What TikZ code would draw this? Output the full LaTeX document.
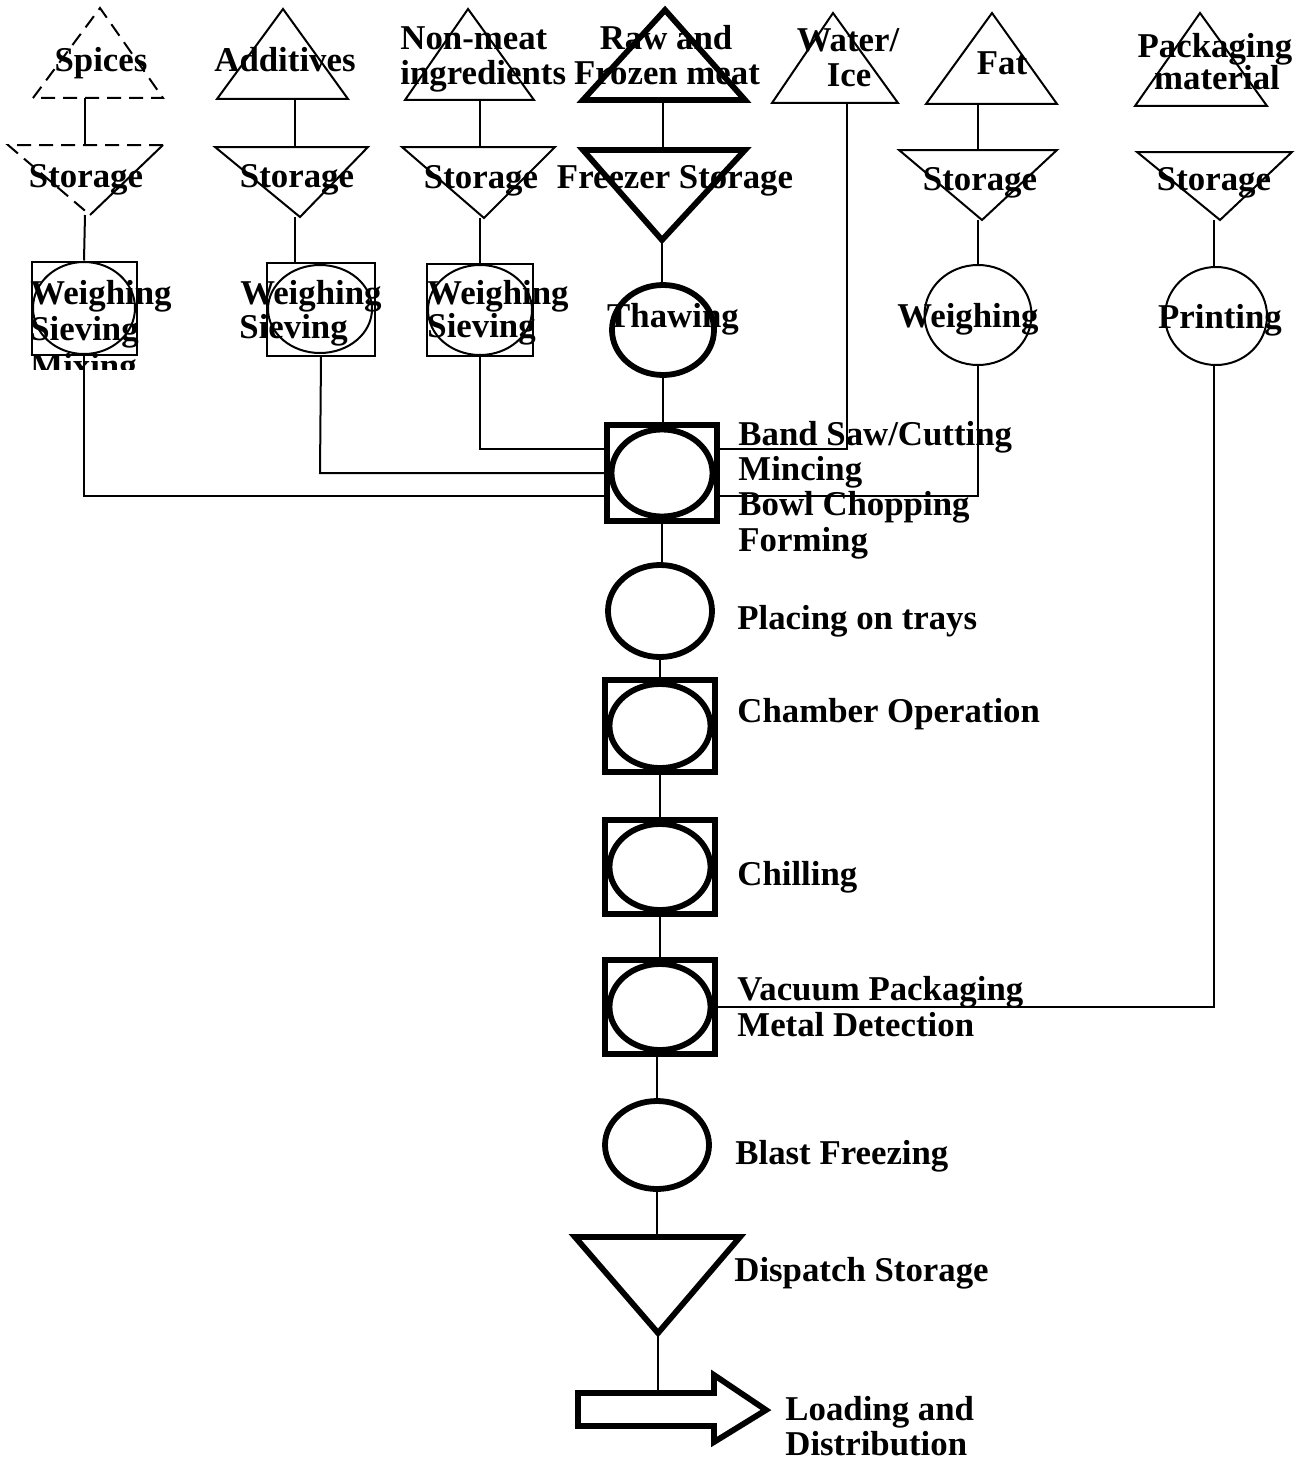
\documentclass[tikz,border=0pt]{standalone}
\usepackage{fontspec}
\setmainfont{Liberation Serif}
\usetikzlibrary{shapes.geometric}
\newcommand{\diagfont}{\fontsize{17.4}{17.8}\selectfont\bfseries}
\begin{document}
\begin{tikzpicture}[x=0.5pt,y=-0.5pt,
  thinln/.style={line width=1pt},
  thickln/.style={line width=2.9pt},
  dashln/.style={line width=1pt,dash pattern=on 7pt off 4pt},
  lbl/.style={font=\diagfont,inner sep=0,anchor=base},
  lblw/.style={font=\diagfont,inner sep=0,anchor=base west},
  sbox/.style={draw,thinln,rectangle,inner sep=0},
  bbox/.style={draw,thickln,rectangle,inner sep=0,minimum width=55pt,minimum height=47pt},
  oval/.style={draw,ellipse,inner sep=0},
]
\useasboundingbox (0,0) rectangle (1301,1461);

% ---------------- Spices column
\draw[dashln] (33,98) -- (100,8) -- (163,98) -- cycle;
\coordinate (spT) at (85,98);
\draw[dashln] (163,145) -- (8,145) -- (90,215);
\draw[thinln] (90,215) -- (163,145);
\coordinate (spS-t) at (85,145);
\coordinate (spS-b) at (85,215);
\node[sbox,minimum width=52.5pt,minimum height=46.5pt] (spW) at (84,308) {};
\node[oval,thinln,minimum width=51pt,minimum height=46pt] (spWc) at (84,308) {};
\node[lbl] (t-sp) at (101,72) {Spices};
\node[lbl] (t-sps) at (86,187) {Storage};
\node[lblw] (t-spw1) at (30,304) {Weighing};
\node[lblw] (t-spw2) at (30,340) {Sieving};
\begin{scope}
\clip (0,340) rectangle (300,369);
\node[lblw] (t-spw3) at (30,377) {Mixing};
\end{scope}

% ---------------- Additives column
\draw[thinln] (217,99) -- (283,9) -- (348,99) -- cycle;
\coordinate (adT) at (295,99);
\draw[thinln] (215,147) -- (368,147) -- (300,217) -- cycle;
\coordinate (adS-t) at (295,147);
\coordinate (adS-b) at (295,217);
\node[sbox,minimum width=54pt,minimum height=46.5pt] (adW) at (321,309) {};
\node[oval,thinln,minimum width=52pt,minimum height=44pt] (adWc) at (320,309) {};
\node[lbl] (t-ad) at (285,72) {Additives};
\node[lbl] (t-ads) at (297,187) {Storage};
\node[lblw] (t-adw1) at (240,304) {Weighing};
\node[lblw] (t-adw2) at (239,338) {Sieving};

% ---------------- Non-meat column
\draw[thinln] (405,100) -- (468,9) -- (534,100) -- cycle;
\coordinate (nmT) at (480,100);
\draw[thinln] (402,147) -- (555,147) -- (484,218) -- cycle;
\coordinate (nmS-t) at (480,147);
\coordinate (nmS-b) at (480,218);
\node[sbox,minimum width=53pt,minimum height=46pt] (nmW) at (480,310) {};
\node[oval,thinln,minimum width=52pt,minimum height=45pt] (nmWc) at (480,310) {};
\node[lblw] (t-nm1) at (400,50) {Non-meat};
\node[lblw] (t-nm2) at (400,85) {ingredients};
\node[lbl] (t-nms) at (481,188) {Storage};
\node[lblw] (t-nmw1) at (427,304) {Weighing};
\node[lblw] (t-nmw2) at (427,337) {Sieving};

% ---------------- Raw and frozen meat column
\draw[thickln,line join=miter] (583,100) -- (665,10) -- (745,100) -- cycle;
\coordinate (rmT) at (663,100);
\draw[thickln,line join=miter] (583,150) -- (745,150) -- (662,240) -- cycle;
\coordinate (rmS-t) at (663,150);
\coordinate (rmS-b) at (662,240);
\node[oval,thickln,minimum width=51pt,minimum height=45pt] (thaw) at (663,330) {};
\node[lbl] (t-rm1) at (666,50) {Raw and};
\node[lbl] (t-rm2) at (667,85) {Frozen meat};
\node[lbl] (t-rms) at (675,188) {Freezer Storage};
\node[lbl] (t-thaw) at (673,327) {Thawing};

% ---------------- Water / Ice column
\draw[thinln] (772,103) -- (833,13) -- (898,103) -- cycle;
\coordinate (wiT) at (847,103);
\node[lbl] (t-wi1) at (848,52) {Water/};
\node[lbl] (t-wi2) at (849,87) {Ice};

% ---------------- Fat column
\draw[thinln] (926,104) -- (992,13) -- (1057,104) -- cycle;
\coordinate (faT) at (978,104);
\draw[thinln] (899,150) -- (1057,150) -- (982,220) -- cycle;
\coordinate (faS-t) at (978,150);
\coordinate (faS-b) at (978,220);
\node[oval,thinln,minimum width=53.5pt,minimum height=50pt] (faW) at (978,315) {};
\node[lbl] (t-fa) at (1002,75) {Fat};
\node[lbl] (t-fas) at (980,190) {Storage};
\node[lbl] (t-faw) at (968,327) {Weighing};

% ---------------- Packaging column
\draw[thinln] (1135,106) -- (1200,13) -- (1267,106) -- cycle;
\draw[thinln] (1137,152) -- (1292,152) -- (1220,220) -- cycle;
\coordinate (pkS-b) at (1214,220);
\node[oval,thinln,minimum width=51pt,minimum height=49pt] (print) at (1216,316) {};
\node[lbl] (t-pk1) at (1215,58) {Packaging};
\node[lbl] (t-pk2) at (1217,90) {material};
\node[lbl] (t-pks) at (1214,191) {Storage};
\node[lbl] (t-print) at (1220,328) {Printing};

% ---------------- Central column
\node[bbox,minimum height=48pt] (cut) at (662,473) {};
\node[oval,thickln,minimum width=50.5pt,minimum height=43.5pt] (cutc) at (662,473) {};
\node[oval,thickln,minimum width=52pt,minimum height=46pt] (tray) at (660,611) {};
\node[bbox,minimum height=46pt] (cham) at (660,726) {};
\node[oval,thickln,minimum width=50.5pt,minimum height=42pt] (chamc) at (660,726) {};
\node[bbox,minimum height=47pt] (chil) at (660,867) {};
\node[oval,thickln,minimum width=50.5pt,minimum height=43pt] (chilc) at (660,867) {};
\node[bbox,minimum height=47pt] (vac) at (660,1007) {};
\node[oval,thickln,minimum width=50.5pt,minimum height=43pt] (vacc) at (660,1007) {};
\node[oval,thickln,minimum width=52pt,minimum height=44pt] (blast) at (657,1145) {};
\draw[thickln,line join=miter] (575,1237) -- (740,1237) -- (658,1333) -- cycle;
\coordinate (disp-t) at (658,1237);
\coordinate (disp-b) at (658,1333);
\draw[thickln,line join=miter] (578,1393) -- (714,1393) -- (714,1375) -- (766,1410)
  -- (714,1442) -- (714,1426) -- (578,1426) -- cycle;
\coordinate (arr-t) at (658,1393);

\node[lblw] (t-cut1) at (738,445) {Band Saw/Cutting};
\node[lblw] (t-cut2) at (738,480) {Mincing};
\node[lblw] (t-cut3) at (738,515) {Bowl Chopping};
\node[lblw] (t-cut4) at (738,551) {Forming};
\node[lblw] (t-tray) at (737,629) {Placing on trays};
\node[lblw] (t-cham) at (737,722) {Chamber Operation};
\node[lblw] (t-chil) at (737,885) {Chilling};
\node[lblw] (t-vac1) at (737,1000) {Vacuum Packaging};
\node[lblw] (t-vac2) at (737,1036) {Metal Detection};
\node[lblw] (t-blast) at (735,1164) {Blast Freezing};
\node[lblw] (t-disp) at (734,1281) {Dispatch Storage};
\node[lblw] (t-load1) at (785,1420) {Loading and};
\node[lblw] (t-load2) at (785,1455) {Distribution};

% ---------------- Connectors
\coordinate (j-sp) at (84,496);
\coordinate (j-ad) at (320,473);
\coordinate (j-nm) at (480,449);
\coordinate (j-wi) at (847,449);
\coordinate (j-fa) at (978,496);
\coordinate (j-pk) at (1214,1007);

\draw[thinln] (spT) -- (spS-t);
\draw[thinln] (spS-b) -- (spW.north);
\draw[thinln] (spW.south) -- (j-sp) -- (cut.west |- j-sp);

\draw[thinln] (adT) -- (adS-t);
\draw[thinln] (adS-b) -- (adW.north -| adS-b);
\draw[thinln] (adW.south) -- (j-ad) -- (cut.west |- j-ad);

\draw[thinln] (nmT) -- (nmS-t);
\draw[thinln] (nmS-b) -- (nmW.north);
\draw[thinln] (nmW.south) -- (j-nm) -- (cut.west |- j-nm);

\draw[thinln] (rmT) -- (rmS-t);
\draw[thinln] (rmS-b) -- (thaw.north -| rmS-b);
\draw[thinln] (thaw.south) -- (cut.north -| thaw.south);

\draw[thinln] (wiT) -- (j-wi) -- (cut.east |- j-wi);

\draw[thinln] (faT) -- (faS-t);
\draw[thinln] (faS-b) -- (faW.north);
\draw[thinln] (faW.south) -- (j-fa) -- (cut.east |- j-fa);

\draw[thinln] (pkS-b) -- (print.north -| pkS-b);
\draw[thinln] (print.south -| pkS-b) -- (j-pk) -- (vac.east);

\draw[thinln] (cut.south) -- (tray.north -| cut.south);
\draw[thinln] (tray.south) -- (cham.north);
\draw[thinln] (cham.south) -- (chil.north);
\draw[thinln] (chil.south) -- (vac.north);
\draw[thinln] (vac.south -| blast.north) -- (blast.north);
\draw[thinln] (blast.south) -- (disp-t -| blast.south);
\draw[thinln] (disp-b) -- (arr-t);
\end{tikzpicture}
\end{document}
